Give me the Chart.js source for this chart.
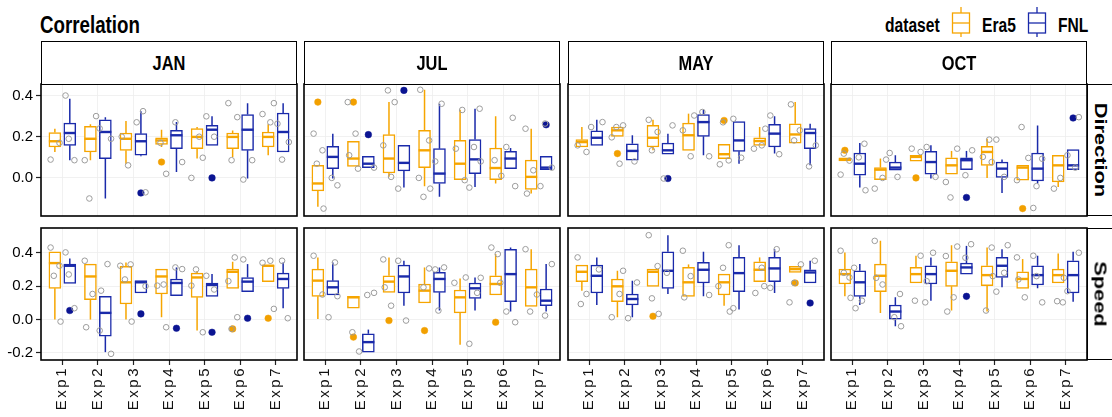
<!DOCTYPE html>
<html>
<head>
<meta charset="utf-8">
<title>Correlation</title>
<script src="https://cdn.jsdelivr.net/npm/chart.js@4.4.1/dist/chart.umd.min.js"></script>
<style>
  html, body { margin: 0; padding: 0; background: #fff; }
  #page { position: relative; width: 1112px; height: 417px; overflow: hidden;
          font-family: 'Liberation Sans', Arial, sans-serif; }
  #page canvas { position: absolute; }
  .txt { position: absolute; white-space: nowrap; font-weight: bold; color: #000;
         transform-origin: 0 0; }
  .strip { position: absolute; box-sizing: border-box; border: 1.5px solid #000; background: #fff; }
  .key { position: absolute; }
</style>
</head>
<body>
<div id="page">
  <div class="txt" style="left:40px;top:13px;font-size:24px;line-height:24px;transform:scaleX(0.78);">Correlation</div>
  <div class="txt" style="left:885px;top:15px;font-size:20px;line-height:20px;transform:scaleX(0.78);">dataset</div>
  <svg class="key" width="20" height="32" style="left:951px;top:6px">
    <g stroke="#F6A500" stroke-width="1.3" fill="none">
      <line x1="10" y1="1" x2="10" y2="7"/><rect x="1.5" y="7" width="17" height="20" fill="#fff"/>
      <line x1="1.5" y1="17" x2="18.5" y2="17"/><line x1="10" y1="27" x2="10" y2="31"/>
    </g>
  </svg>
  <div class="txt" style="left:982px;top:15px;font-size:20px;line-height:20px;transform:scaleX(0.78);">Era5</div>
  <svg class="key" width="20" height="32" style="left:1027px;top:6px">
    <g stroke="#1A2AAA" stroke-width="1.3" fill="none">
      <line x1="10" y1="1" x2="10" y2="7"/><rect x="1.5" y="7" width="17" height="20" fill="#fff"/>
      <line x1="1.5" y1="17" x2="18.5" y2="17"/><line x1="10" y1="27" x2="10" y2="31"/>
    </g>
  </svg>
  <div class="txt" style="left:1058px;top:15px;font-size:20px;line-height:20px;transform:scaleX(0.78);">FNL</div>
</div>
<script>
// ---- categories ----
const experiments = ['Exp1', 'Exp2', 'Exp3', 'Exp4', 'Exp5', 'Exp6', 'Exp7'];
const months = ['JAN', 'JUL', 'MAY', 'OCT'];
const variables = ['Direction', 'Speed'];
const seriesNames = ['Era5', 'FNL'];
const yTickValues = [-0.2, 0.0, 0.2, 0.4];

// ---- box statistics: [lower whisker, Q1, median, Q3, upper whisker] per experiment ----
// Direction
const dirJanEra5 = [[0.126,0.150,0.178,0.220,0.239],[0.086,0.126,0.190,0.250,0.260],[0.069,0.134,0.190,0.218,0.276],[0.150,0.163,0.182,0.195,0.234],[0.094,0.142,0.199,0.239,0.247],[0.102,0.142,0.199,0.218,0.230],[0.110,0.150,0.199,0.223,0.260]];
const dirJanFnl  = [[0.086,0.158,0.218,0.266,0.384],[-0.100,0.094,0.223,0.282,0.295],[0.105,0.110,0.178,0.215,0.324],[0.029,0.142,0.207,0.231,0.271],[0.158,0.158,0.234,0.255,0.299],[-0.003,0.134,0.234,0.308,0.363],[0.126,0.126,0.223,0.315,0.363]];
const dirJulEra5 = [[-0.140,-0.063,-0.027,0.061,0.061],[0.056,0.056,0.094,0.178,0.178],[0.005,0.024,0.094,0.210,0.368],[-0.040,0.050,0.134,0.231,0.428],[-0.008,-0.008,0.069,0.182,0.331],[-0.027,-0.008,0.048,0.145,0.299],[-0.076,-0.056,0.005,0.086,0.239]];
const dirJulFnl  = [[-0.003,0.045,0.102,0.153,0.215],[0.050,0.050,0.069,0.105,0.105],[-0.047,0.034,0.073,0.158,0.158],[-0.092,-0.027,0.021,0.142,0.360],[-0.044,0.021,0.090,0.186,0.336],[0.045,0.045,0.094,0.129,0.145],[0.040,0.040,0.050,0.105,0.105]];
const dirMayEra5 = [[0.150,0.150,0.174,0.186,0.247],[0.202,0.202,0.231,0.247,0.247],[0.134,0.150,0.195,0.255,0.282],[0.134,0.134,0.207,0.266,0.312],[0.094,0.094,0.115,0.163,0.163],[0.158,0.158,0.179,0.195,0.247],[0.169,0.169,0.211,0.263,0.368]];
const dirMayFnl  = [[0.158,0.158,0.195,0.228,0.282],[0.086,0.086,0.131,0.166,0.207],[0.115,0.115,0.134,0.169,0.215],[0.110,0.202,0.271,0.307,0.331],[0.069,0.129,0.182,0.274,0.274],[0.118,0.150,0.215,0.260,0.299],[0.061,0.142,0.218,0.239,0.263]];
const dirOctEra5 = [[0.082,0.082,0.089,0.098,0.098],[-0.008,-0.008,0.040,0.050,0.094],[0.081,0.081,0.102,0.110,0.110],[0.018,0.018,0.061,0.098,0.131],[0.000,0.061,0.126,0.153,0.190],[-0.011,-0.011,0.050,0.061,0.061],[-0.044,-0.019,0.061,0.110,0.110]];
const dirOctFnl  = [[-0.047,0.013,0.069,0.121,0.169],[0.037,0.037,0.050,0.077,0.110],[-0.003,0.018,0.077,0.129,0.158],[0.040,0.040,0.086,0.098,0.131],[-0.073,0.002,0.045,0.077,0.089],[-0.027,-0.015,0.045,0.121,0.255],[0.040,0.040,0.061,0.137,0.137]];
// Speed
const spdJanEra5 = [[0.000,0.187,0.338,0.406,0.406],[0.000,0.119,0.258,0.332,0.332],[0.000,0.093,0.223,0.318,0.342],[0.014,0.153,0.258,0.302,0.302],[-0.066,0.133,0.252,0.278,0.290],[0.187,0.187,0.286,0.302,0.346],[0.227,0.227,0.322,0.326,0.326]];
const spdJanFnl  = [[0.217,0.217,0.322,0.332,0.366],[-0.195,-0.099,0.040,0.139,0.139],[0.159,0.159,0.223,0.233,0.233],[0.143,0.143,0.219,0.243,0.312],[0.139,0.139,0.207,0.219,0.272],[0.167,0.167,0.227,0.252,0.332],[0.068,0.187,0.243,0.278,0.342]];
const spdJulEra5 = [[0.004,0.139,0.233,0.302,0.372],[0.068,0.068,0.133,0.139,0.139],[0.163,0.163,0.227,0.262,0.372],[0.099,0.099,0.173,0.213,0.312],[-0.151,0.040,0.133,0.177,0.246],[0.147,0.147,0.213,0.262,0.392],[0.079,0.079,0.193,0.302,0.421]];
const spdJulFnl  = [[0.147,0.147,0.193,0.233,0.342],[-0.195,-0.195,-0.135,-0.085,-0.060],[0.083,0.159,0.258,0.326,0.352],[0.054,0.163,0.243,0.282,0.312],[0.054,0.127,0.187,0.219,0.252],[0.048,0.107,0.272,0.421,0.431],[0.048,0.083,0.113,0.183,0.332]];
const spdMayEra5 = [[0.173,0.227,0.286,0.326,0.326],[0.014,0.107,0.199,0.243,0.292],[0.199,0.199,0.286,0.302,0.302],[0.139,0.139,0.223,0.312,0.330],[0.083,0.147,0.223,0.272,0.272],[0.227,0.227,0.298,0.346,0.372],[0.282,0.282,0.302,0.318,0.318]];
const spdMayFnl  = [[0.087,0.159,0.262,0.326,0.372],[0.014,0.087,0.123,0.153,0.233],[0.153,0.187,0.292,0.406,0.505],[0.139,0.219,0.298,0.342,0.406],[0.060,0.167,0.278,0.372,0.445],[0.159,0.227,0.306,0.372,0.421],[0.219,0.219,0.282,0.298,0.352]];
const spdOctEra5 = [[0.139,0.213,0.272,0.302,0.402],[0.040,0.167,0.262,0.332,0.471],[0.219,0.219,0.272,0.312,0.382],[0.054,0.199,0.292,0.346,0.445],[0.048,0.203,0.266,0.322,0.431],[0.187,0.187,0.243,0.286,0.362],[0.219,0.219,0.266,0.302,0.396]];
const spdOctFnl  = [[0.087,0.139,0.223,0.292,0.332],[-0.040,0.000,0.048,0.087,0.133],[0.113,0.213,0.272,0.322,0.372],[0.272,0.272,0.312,0.338,0.441],[0.193,0.252,0.322,0.372,0.421],[0.187,0.207,0.266,0.322,0.382],[0.107,0.159,0.266,0.352,0.406]];

// ---- outliers beyond the whiskers, per experiment ----
const outDirJanEra5 = [[],[],[],[0.077],[],[],[]];
const outDirJanFnl  = [[],[],[-0.073],[],[0.000],[],[]];
const outDirJulEra5 = [[0.368],[0.368],[],[],[],[],[]];
const outDirJulFnl  = [[],[0.210],[0.425],[],[],[],[0.258]];
const outDirMayEra5 = [[],[0.118],[],[],[0.279],[],[]];
const outDirMayFnl  = [[],[],[-0.003],[],[],[],[]];
const outDirOctEra5 = [[0.134],[],[0.000],[],[],[-0.149],[]];
const outDirOctFnl  = [[],[],[],[-0.095],[],[],[0.291]];
const outSpdJanEra5 = [[],[],[],[],[],[-0.056],[0.008]];
const outSpdJanFnl  = [[0.054],[],[0.034],[-0.052],[-0.076],[0.008],[]];
const outSpdJulEra5 = [[],[-0.105],[-0.006],[-0.066],[],[-0.016],[]];
const outSpdJulFnl  = [[],[],[],[],[],[],[]];
const outSpdMayEra5 = [[],[],[0.020],[],[],[],[0.219]];
const outSpdMayFnl  = [[],[],[],[],[],[],[0.099]];
const outSpdOctEra5 = [[],[],[],[],[],[],[]];
const outSpdOctFnl  = [[],[],[],[0.139],[],[],[]];

// ---- individual correlations shown as open grey circles ----
const ptsDirJanEra5 = [[0.089,0.170],[-0.100,0.300,0.086],[0.061,0.200],[0.020,0.170],[0.098,0.000,0.200],[0.363,0.295,0.086],[0.363,0.310,0.270]];
const ptsDirJanFnl  = [[0.400,0.086,0.190],[0.190,0.240],[0.324,0.270,-0.070],[0.270,0.077],[0.299,0.200],[-0.008,0.086],[0.089,0.174,0.263]];
const ptsDirJulEra5 = [[0.215,0.134,0.069,-0.149],[0.368,0.215,0.110,0.045],[0.425,0.368,0.158,0.005],[0.428,0.182,-0.092,-0.052,0.000],[0.330,0.142,-0.011],[0.086,0.010],[0.239,0.037,-0.076]];
const ptsDirJulFnl  = [[-0.036,0.000],[0.050],[-0.052],[0.360,0.080],[0.336,0.150,0.080,-0.047],[0.292,0.150,-0.040],[0.264,0.050,-0.040]];
const ptsDirMayEra5 = [[0.158,0.126],[0.247,0.255,0.197,0.069],[0.282,0.223,0.134],[0.303,0.231,0.105],[0.066,0.085,0.270],[0.239,0.142,0.158],[0.357,0.231,0.182]];
const ptsDirMayFnl  = [[0.271,0.247],[0.080],[-0.003,0.255],[0.320,0.105],[0.287,0.098],[0.303,0.115],[0.056,0.158]];
const ptsDirOctEra5 = [[0.016,0.084,0.118],[0.089,-0.052,0.000],[0.142,0.126],[-0.095,0.142,-0.020],[0.186,0.102,0.077],[0.247,0.097,-0.011],[0.000,-0.052]];
const ptsDirOctFnl  = [[0.166,0.100,-0.060],[0.121,0.005],[0.150,0.005],[0.013,0.134],[0.186,0.005],[-0.146,0.093,-0.040],[0.295,0.110,0.050]];
const ptsSpdJanEra5 = [[0.431,0.322,0.262,-0.012],[0.352,0.153,-0.046],[0.330,0.240,-0.012,0.322],[0.210,0.203,-0.046],[0.300,-0.076,0.203],[0.372,0.230,0.014,-0.056],[0.064,0.340,0.352]];
const ptsSpdJanFnl  = [[0.402,0.068,0.270],[-0.205,-0.066,0.332,0.173],[0.200],[0.312,0.302],[0.262,0.180],[0.360],[0.008,0.352]];
const ptsSpdJulEra5 = [[0.382,0.150],[-0.076,-0.191],[0.360,0.083,0.193],[0.306,0.193],[0.252,0.220],[0.392,0.431,0.220],[0.048,0.150,0.421]];
const ptsSpdJulFnl  = [[0.342,0.014,0.140],[0.147,0.160],[0.352,-0.006],[0.300,0.312,0.054],[0.250,-0.145,0.160],[0.048,-0.016],[0.024,0.332]];
const ptsSpdMayEra5 = [[0.372,0.153,0.093],[0.292,0.014,0.153],[0.505,0.320,0.127,0.034],[0.412,0.260,0.133],[0.445,0.310,0.048,0.200],[0.310,0.159,0.200],[0.220,0.330,0.103]];
const ptsSpdMayFnl  = [[0.300],[0.008,0.222],[0.280],[0.147],[0.068],[0.421,0.190],[0.352]];
const ptsSpdOctEra5 = [[0.412,0.252,0.280,0.130],[0.471,0.210,0.250],[0.382,0.113],[0.437,0.380,0.133,0.048],[0.431,0.054,0.260],[0.372,0.133,0.240],[0.103,0.110,0.250]];
const ptsSpdOctFnl  = [[0.310,0.113,0.068],[0.153,0.014,-0.040],[0.103,0.400,0.230],[0.451,0.370],[0.445,0.167,0.280],[0.382,0.103,0.260],[0.400,0.170]];

// ---- panel lookup: variable -> month -> [Era5 stats, FNL stats, Era5 pts, FNL pts, Era5 out, FNL out] ----
const panelSources = {
  Direction: {
    JAN: [dirJanEra5, dirJanFnl, ptsDirJanEra5, ptsDirJanFnl, outDirJanEra5, outDirJanFnl],
    JUL: [dirJulEra5, dirJulFnl, ptsDirJulEra5, ptsDirJulFnl, outDirJulEra5, outDirJulFnl],
    MAY: [dirMayEra5, dirMayFnl, ptsDirMayEra5, ptsDirMayFnl, outDirMayEra5, outDirMayFnl],
    OCT: [dirOctEra5, dirOctFnl, ptsDirOctEra5, ptsDirOctFnl, outDirOctEra5, outDirOctFnl]
  },
  Speed: {
    JAN: [spdJanEra5, spdJanFnl, ptsSpdJanEra5, ptsSpdJanFnl, outSpdJanEra5, outSpdJanFnl],
    JUL: [spdJulEra5, spdJulFnl, ptsSpdJulEra5, ptsSpdJulFnl, outSpdJulEra5, outSpdJulFnl],
    MAY: [spdMayEra5, spdMayFnl, ptsSpdMayEra5, ptsSpdMayFnl, outSpdMayEra5, outSpdMayFnl],
    OCT: [spdOctEra5, spdOctFnl, ptsSpdOctEra5, ptsSpdOctFnl, outSpdOctEra5, outSpdOctFnl]
  }
};

// ---- layout & style ----
const FONT = "'Liberation Sans', Arial, sans-serif";
const COLORS = { Era5: '#F6A500', FNL: '#1A2AAA' };
const DOT_COLORS = { Era5: '#F2A000', FNL: '#0B1492' };
const GREY = '#9c9c9c';
const GRID = '#ededed';
const colLeft = [41, 304, 568, 831];
const colWidth = 256;
const rowTop = [84, 228];
const rowBottom = [216, 360];
const yLimits = { Direction: [-0.185, 0.456], Speed: [-0.242, 0.548] };
const PAD = 2;
const DODGE = 0.21;                    // half distance between the Era5 and FNL boxes
const JITTER = [-0.12, 0.13, -0.03, 0.16, -0.16, 0.06];
const page = document.getElementById('page');

// whiskers and the median bar of every box, drawn right after its bar dataset
const boxWhiskers = {
  id: 'boxWhiskers',
  afterDatasetDraw(chart, args) {
    const ds = chart.data.datasets[args.index];
    if (!ds.stats) return;
    const y = chart.scales.y, ctx = chart.ctx;
    ctx.save();
    ctx.letterSpacing = '0px';
    ctx.strokeStyle = ds.borderColor;
    args.meta.data.forEach((bar, i) => {
      const [lo, q1, med, q3, hi] = ds.stats[i];
      const x = bar.x, w = bar.width;
      ctx.lineWidth = 1.5;
      ctx.beginPath();
      ctx.moveTo(x, y.getPixelForValue(q3)); ctx.lineTo(x, y.getPixelForValue(hi));
      ctx.moveTo(x, y.getPixelForValue(q1)); ctx.lineTo(x, y.getPixelForValue(lo));
      ctx.stroke();
      const ym = y.getPixelForValue(med);
      ctx.lineWidth = 2.4;
      ctx.beginPath(); ctx.moveTo(x - w / 2, ym); ctx.lineTo(x + w / 2, ym); ctx.stroke();
    });
    ctx.restore();
  }
};

// black frame around each panel
const panelFrame = {
  id: 'panelFrame',
  afterDraw(chart) {
    const { ctx, chartArea: a } = chart;
    ctx.save();
    ctx.strokeStyle = '#000';
    ctx.lineWidth = 1.6;
    ctx.strokeRect(a.left, a.top, a.right - a.left, a.bottom - a.top);
    ctx.restore();
  }
};

// wide-set experiment labels on the x axis; y labels (z = 1) are drawn after the reset
const tickSpacing = {
  id: 'tickSpacing',
  beforeDraw(chart) { chart.ctx.letterSpacing = '2.5px'; },
  beforeDatasetsDraw(chart) { chart.ctx.letterSpacing = '0px'; }
};

function buildDatasets(src) {
  const [era5, fnl, ptsEra5, ptsFnl, outEra5, outFnl] = src;
  const stats = [era5, fnl], pts = [ptsEra5, ptsFnl], outs = [outEra5, outFnl];
  const sets = [];
  seriesNames.forEach((name, s) => {
    const shift = s === 0 ? -DODGE : DODGE;
    sets.push({
      type: 'bar', label: name, stats: stats[s], order: 3,
      data: stats[s].map((b, i) => ({ x: i + shift, y: [b[1], b[3]] })),
      backgroundColor: '#fff', borderColor: COLORS[name], borderWidth: 1.5,
      borderSkipped: false, grouped: false, barThickness: 12
    });
    const outPts = [];
    outs[s].forEach((vals, i) => vals.forEach(v => outPts.push({ x: i + shift, y: v })));
    sets.push({
      type: 'scatter', label: name + ' outliers', order: 2, data: outPts,
      pointRadius: 3.3, pointBackgroundColor: DOT_COLORS[name], pointBorderColor: DOT_COLORS[name],
      pointBorderWidth: 0.5
    });
  });
  const grey = [];
  let k = 0;
  seriesNames.forEach((name, s) => {
    const shift = s === 0 ? -DODGE : DODGE;
    pts[s].forEach((vals, i) => vals.forEach(v => {
      grey.push({ x: i + shift + JITTER[k % JITTER.length], y: v });
      k++;
    }));
  });
  sets.push({
    type: 'scatter', label: 'points', order: 1, data: grey,
    pointRadius: 2.8, pointBackgroundColor: 'rgba(0,0,0,0)', pointBorderColor: GREY,
    pointBorderWidth: 1
  });
  return sets;
}

function makePanel(r, c) {
  const variable = variables[r], month = months[c];
  const [yMin, yMax] = yLimits[variable];
  const left = c === 0 ? 0 : colLeft[c] - PAD;
  const right = colLeft[c] + colWidth + PAD;
  const top = rowTop[r] - PAD;
  const bottom = r === 1 ? 417 : rowBottom[r] + PAD;
  const cv = document.createElement('canvas');
  cv.width = right - left; cv.height = bottom - top;
  cv.style.left = left + 'px'; cv.style.top = top + 'px';
  page.appendChild(cv);

  new Chart(cv, {
    type: 'bar',
    data: { datasets: buildDatasets(panelSources[variable][month]) },
    options: {
      responsive: false, animation: false, events: [],
      layout: { autoPadding: false,
                padding: { left: c === 0 ? 0 : PAD, right: PAD, top: PAD, bottom: r === 1 ? 0 : PAD } },
      plugins: { legend: { display: false }, tooltip: { enabled: false }, title: { display: false } },
      scales: {
        x: {
          type: 'linear', min: -0.6, max: 6.6, offset: false,
          grid: { color: GRID, lineWidth: 0.8, offset: false, drawTicks: r === 1,
                  tickLength: 5, tickColor: '#222', tickWidth: 1.2 },
          border: { display: false },
          ticks: { display: r === 1, minRotation: 90, maxRotation: 90, autoSkip: false, padding: 1,
                   font: { family: FONT, size: 15 }, color: '#111',
                   callback: v => experiments[v] },
          afterBuildTicks: s => { s.ticks = experiments.map((_, i) => ({ value: i })); },
          afterFit: s => { s.height = r === 1 ? 417 - rowBottom[1] : 0; s.paddingLeft = 0; s.paddingRight = 0; }
        },
        y: {
          type: 'linear', min: yMin, max: yMax,
          grid: { color: GRID, lineWidth: 0.8, drawTicks: c === 0,
                  tickLength: 5, tickColor: '#222', tickWidth: 1.2 },
          border: { display: false },
          ticks: { display: c === 0, z: 1, padding: 3,
                   font: { family: FONT, size: 15 }, color: '#000',
                   callback: v => v.toFixed(1) },
          afterBuildTicks: s => {
            s.ticks = yTickValues.filter(v => v >= yMin && v <= yMax).map(v => ({ value: v }));
          },
          afterFit: s => { s.width = c === 0 ? 41 : 0; s.paddingTop = 0; s.paddingBottom = 0; }
        }
      }
    },
    plugins: [tickSpacing, boxWhiskers, panelFrame]
  });
}

variables.forEach((_, r) => months.forEach((_, c) => makePanel(r, c)));

// facet strips: months on top, variables on the right
months.forEach((m, c) => {
  const strip = document.createElement('div');
  strip.className = 'strip';
  Object.assign(strip.style, { left: colLeft[c] + 'px', top: '41px', width: colWidth + 'px', height: '43.5px' });
  page.appendChild(strip);
  const t = document.createElement('div');
  t.className = 'txt';
  t.textContent = m;
  Object.assign(t.style, { left: (colLeft[c] + colWidth / 2) + 'px', top: '63px', fontSize: '20px', lineHeight: '20px',
                           transform: 'scaleX(0.82) translate(-50%, -50%)' });
  page.appendChild(t);
});
variables.forEach((v, r) => {
  const strip = document.createElement('div');
  strip.className = 'strip';
  Object.assign(strip.style, { left: (colLeft[3] + colWidth) + 'px', top: rowTop[r] + 'px', width: '50px',
                               height: (rowBottom[r] - rowTop[r]) + 'px' });
  page.appendChild(strip);
  const t = document.createElement('div');
  t.className = 'txt';
  t.textContent = v;
  Object.assign(t.style, { left: '1100px', top: ((rowTop[r] + rowBottom[r]) / 2) + 'px', fontSize: '17px', lineHeight: '17px',
                           transform: 'rotate(90deg) scaleX(1.28) translate(-50%, -50%)' });
  page.appendChild(t);
});
</script>
</body>
</html>
